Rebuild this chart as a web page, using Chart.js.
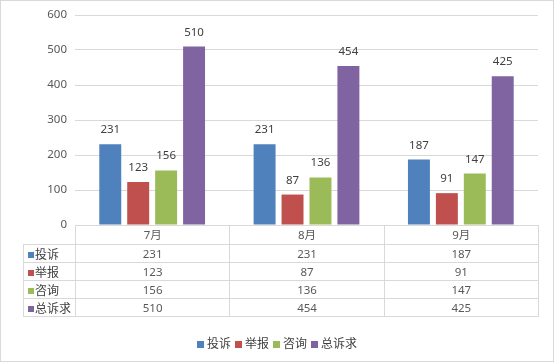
<!DOCTYPE html>
<html lang="zh">
  <head>
    <meta charset="UTF-8" />
    <title>诉求统计</title>
    <script src="https://cdn.jsdelivr.net/npm/chart.js"></script>
    <style>
      html, body { margin: 0; padding: 0; background: #fff; }
      .wrap { position: relative; width: 554px; height: 362px; overflow: hidden; }
      .frame {
        position: absolute; left: 0; top: 0; width: 554px; height: 362px;
        box-sizing: border-box; border: 1px solid #d9d9d9; pointer-events: none;
      }
      #chart { position: absolute; left: 0; top: 0; }
      #dataTable {
        position: absolute; border-collapse: collapse; table-layout: fixed;
        font-family: "Noto Sans", "Noto Sans CJK SC", sans-serif; font-size: 11.5px; color: #595959;
      }
      #dataTable td { border: 1px solid #d9d9d9; padding: 0; text-align: center; height: 17px; line-height: 17px; }
      #dataTable tr.head td { height: 18px; line-height: 18px; }
      #dataTable td.corner { border-top: none; border-left: none; }
      #dataTable td.rowname {
        text-align: left; padding-left: 4px; color: #404040; white-space: nowrap;
        font-family: "Noto Sans CJK SC", sans-serif; font-size: 12px;
      }
      .sw { display: inline-block; width: 6px; height: 6px; margin-right: 1px; vertical-align: 1px; }
      #legend {
        position: absolute; left: 0; width: 554px; top: 334px; text-align: center;
        font-family: "Noto Sans CJK SC", sans-serif; font-size: 12px; color: #404040;
      }
      #legend span.item { margin: 0 2px; white-space: nowrap; }
      #legend .sw { width: 7px; height: 7px; margin-right: 3px; vertical-align: 0; }
    </style>
  </head>
  <body>
    <div class="wrap">
      <canvas id="chart" width="554" height="362"></canvas>
      <table id="dataTable"></table>
      <div id="legend"></div>
      <div class="frame"></div>
    </div>

    <script>
      // data
      const categories = ["7月", "8月", "9月"];
      const seriesNames = ["投诉", "举报", "咨询", "总诉求"];
      const complaints = [231, 231, 187];
      const reports = [123, 87, 91];
      const inquiries = [156, 136, 147];
      const totals = [510, 454, 425];
      const yMax = 600;
      const yStep = 100;

      const seriesValues = [complaints, reports, inquiries, totals];
      const colors = ["#4f81bd", "#c0504d", "#9bbb59", "#8064a2"];

      // value labels above each bar
      const barLabels = {
        id: "barLabels",
        afterDatasetsDraw(chart) {
          const ctx = chart.ctx;
          ctx.save();
          ctx.font = '11.5px "Noto Sans", sans-serif';
          ctx.fillStyle = "#404040";
          ctx.textAlign = "center";
          ctx.textBaseline = "alphabetic";
          chart.data.datasets.forEach((ds, i) => {
            chart.getDatasetMeta(i).data.forEach((bar, j) => {
              ctx.fillText(ds.data[j], bar.x, bar.y - 11);
            });
          });
          ctx.restore();
        },
      };

      const chart = new Chart(document.getElementById("chart"), {
        type: "bar",
        data: {
          labels: categories,
          datasets: seriesNames.map((name, i) => ({
            label: name,
            data: seriesValues[i],
            backgroundColor: colors[i],
            categoryPercentage: 0.724,
            barPercentage: 0.786,
          })),
        },
        options: {
          responsive: false,
          animation: false,
          devicePixelRatio: 1,
          layout: { padding: { left: 0, top: 15, right: 16, bottom: 137 } },
          plugins: { legend: { display: false }, tooltip: { enabled: false } },
          scales: {
            x: { display: false },
            y: {
              min: 0,
              max: yMax,
              ticks: {
                stepSize: yStep,
                color: "#595959",
                padding: 8,
                font: { family: "Noto Sans", size: 11.5 },
              },
              grid: { color: "#d9d9d9", drawTicks: false },
              border: { display: false },
              afterFit(scale) {
                scale.width = 75;
              },
            },
          },
        },
        plugins: [barLabels],
      });

      // data table under the plot, columns follow the category scale
      function buildTable() {
        const area = chart.chartArea;
        const colW = (area.right - area.left) / categories.length;
        const firstW = 52;
        const table = document.getElementById("dataTable");
        table.style.left = area.left - firstW + "px";
        table.style.top = area.bottom + "px";
        table.style.width = firstW + colW * categories.length + "px";

        let html = "<colgroup><col style='width:" + firstW + "px'>";
        categories.forEach(() => (html += "<col style='width:" + colW + "px'>"));
        html += "</colgroup>";
        html += "<tr class='head'><td class='corner'></td>";
        categories.forEach((c) => (html += "<td>" + c + "</td>"));
        html += "</tr>";
        seriesNames.forEach((name, i) => {
          html += "<tr><td class='rowname'><span class='sw' style='background:" + colors[i] + "'></span>" + name + "</td>";
          seriesValues[i].forEach((v) => (html += "<td>" + v + "</td>"));
          html += "</tr>";
        });
        table.innerHTML = html;
      }

      function buildLegend() {
        const legend = document.getElementById("legend");
        legend.innerHTML = seriesNames
          .map((name, i) => "<span class='item'><span class='sw' style='background:" + colors[i] + "'></span>" + name + "</span>")
          .join("");
      }

      buildTable();
      buildLegend();
    </script>
  </body>
</html>
